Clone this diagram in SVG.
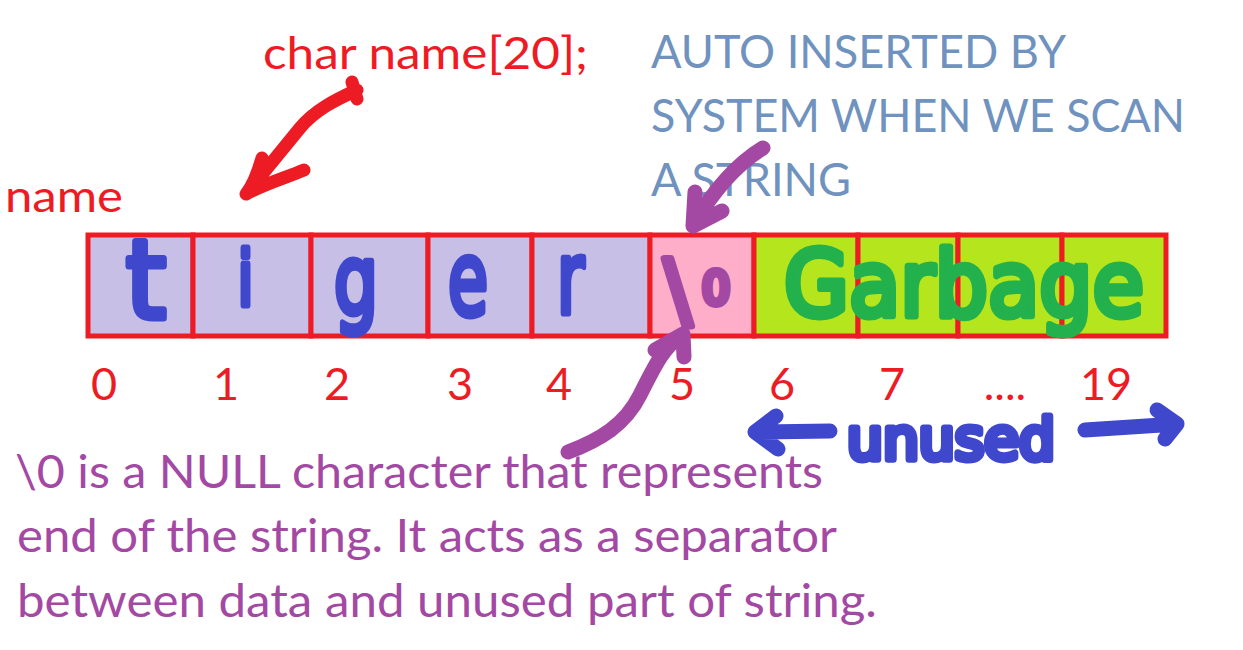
<svg xmlns="http://www.w3.org/2000/svg" width="1243" height="650" viewBox="0 0 1243 650">
<style>
.lbl{font-family:Lato,"Open Sans","Liberation Sans",sans-serif;}
.red{fill:#ED1C24;}
.bg{fill:#7092BE;}
.pur{fill:#A349A4;}
.cell{stroke:#ED1C24;stroke-width:5;}
.d0{fill:#C8BFE7;}
.d1{fill:#FFAEC9;}
.d2{fill:#B5E61D;}
.hand{font-family:"DejaVu Sans",sans-serif;font-weight:normal;stroke-linejoin:round;stroke-linecap:round;stroke-width:7;}
.hb{fill:#3F48CC;stroke:#3F48CC;}
.hg{fill:#22B14C;stroke:#22B14C;}
.hp{fill:#A349A4;stroke:#A349A4;}
.stroke{fill:none;stroke-linecap:round;stroke-linejoin:round;}
.sr{stroke:#ED1C24;stroke-width:13;}
.sp{stroke:#A349A4;stroke-width:15;}
.sb{stroke:#3F48CC;stroke-width:15;}
</style>
<rect width="1243" height="650" fill="#FFFFFF"/>

<g id="array">
  <g id="cell0"><rect class="cell d0" x="88" y="235" width="105" height="101"/></g>
  <g id="cell1"><rect class="cell d0" x="193" y="235" width="118" height="101"/></g>
  <g id="cell2"><rect class="cell d0" x="311" y="235" width="117" height="101"/></g>
  <g id="cell3"><rect class="cell d0" x="428" y="235" width="104" height="101"/></g>
  <g id="cell4"><rect class="cell d0" x="532" y="235" width="118" height="101"/></g>
  <g id="cell5"><rect class="cell d1" x="650" y="235" width="104" height="101"/></g>
  <g id="cell6"><rect class="cell d2" x="754" y="235" width="104" height="101"/></g>
  <g id="cell7"><rect class="cell d2" x="858" y="235" width="100" height="101"/></g>
  <g id="cell8"><rect class="cell d2" x="958" y="235" width="104" height="101"/></g>
  <g id="cell9"><rect class="cell d2" x="1062" y="235" width="104" height="101"/></g>
</g>

<g id="cell-contents">
  <text class="hand hb" x="126" y="318" font-size="108" textLength="40" lengthAdjust="spacingAndGlyphs">t</text>
  <text class="hand hb" x="238" y="305" font-size="74" textLength="15" lengthAdjust="spacingAndGlyphs">i</text>
  <text class="hand hb" x="334" y="314" font-size="97" textLength="44" lengthAdjust="spacingAndGlyphs">g</text>
  <text class="hand hb" x="448" y="315" font-size="102" textLength="40" lengthAdjust="spacingAndGlyphs">e</text>
  <text class="hand hb" x="557" y="313" font-size="100" textLength="27" lengthAdjust="spacingAndGlyphs">r</text>
  <text class="hand hp" y="318"><tspan x="664" font-size="82">\</tspan><tspan x="702" y="304" font-size="44">0</tspan></text>
  <text class="hand hg" x="784" y="316" font-size="90" textLength="360" lengthAdjust="spacingAndGlyphs">Garbage</text>
</g>

<g id="labels">
  <g id="decl"><text class="lbl red" x="263" y="69" font-size="44" textLength="325" lengthAdjust="spacingAndGlyphs">char name[20];</text></g>
  <g id="varname"><text class="lbl red" x="5" y="212" font-size="44" textLength="118" lengthAdjust="spacingAndGlyphs">name</text></g>
  <g id="auto-note">
    <text class="lbl bg" x="651" y="68" font-size="46" textLength="415" lengthAdjust="spacingAndGlyphs">AUTO INSERTED BY</text>
    <text class="lbl bg" x="651" y="132" font-size="46" textLength="534" lengthAdjust="spacingAndGlyphs">SYSTEM WHEN WE SCAN</text>
    <text class="lbl bg" x="651" y="196" font-size="46" textLength="200" lengthAdjust="spacingAndGlyphs">A STRING</text>
  </g>
  <g id="indices" text-anchor="middle">
    <text class="lbl red" x="104" y="400" font-size="45">0</text>
    <text class="lbl red" x="226" y="400" font-size="45">1</text>
    <text class="lbl red" x="337" y="400" font-size="45">2</text>
    <text class="lbl red" x="460" y="400" font-size="45">3</text>
    <text class="lbl red" x="559" y="400" font-size="45">4</text>
    <text class="lbl red" x="682" y="400" font-size="45">5</text>
    <text class="lbl red" x="782" y="400" font-size="45">6</text>
    <text class="lbl red" x="892" y="400" font-size="45">7</text>
    <text class="lbl red" x="1005" y="400" font-size="45">....</text>
    <text class="lbl red" x="1106" y="400" font-size="45">19</text>
  </g>
  <g id="unused"><text class="hand hb" x="847" y="459" font-size="57" stroke-width="12" textLength="208" lengthAdjust="spacingAndGlyphs">unused</text></g>
  <g id="null-note">
    <text class="lbl pur" x="15" y="488" font-size="46" textLength="808" lengthAdjust="spacingAndGlyphs">\0 is a NULL character that represents</text>
    <text class="lbl pur" x="17" y="552" font-size="46" textLength="820" lengthAdjust="spacingAndGlyphs">end of the string. It acts as a separator</text>
    <text class="lbl pur" x="17" y="617" font-size="46" textLength="860" lengthAdjust="spacingAndGlyphs">between data and unused part of string.</text>
  </g>
</g>

<g id="connectors" class="stroke">
  <path class="sr" d="M352,82 L357,99 M357,90 C335,100 315,110 300,128 L246,194 M262,158 C258,172 254,184 246,194 C262,185 285,178 304,170"/>
  <path class="sp" d="M763,148 C740,162 715,188 693,225 M695,192 L693,226 L722,211"/>
  <path class="sp" d="M568,452 C600,440 625,425 640,395 C655,365 665,345 682,335 M655,350 L683,334 L684,357"/>
  <path class="sb" d="M830,431 L755,432 M776,416 L755,432 L778,449"/>
  <path class="sb" d="M1085,430 L1177,424 M1157,410 L1177,424 L1165,439"/>
</g>
</svg>
